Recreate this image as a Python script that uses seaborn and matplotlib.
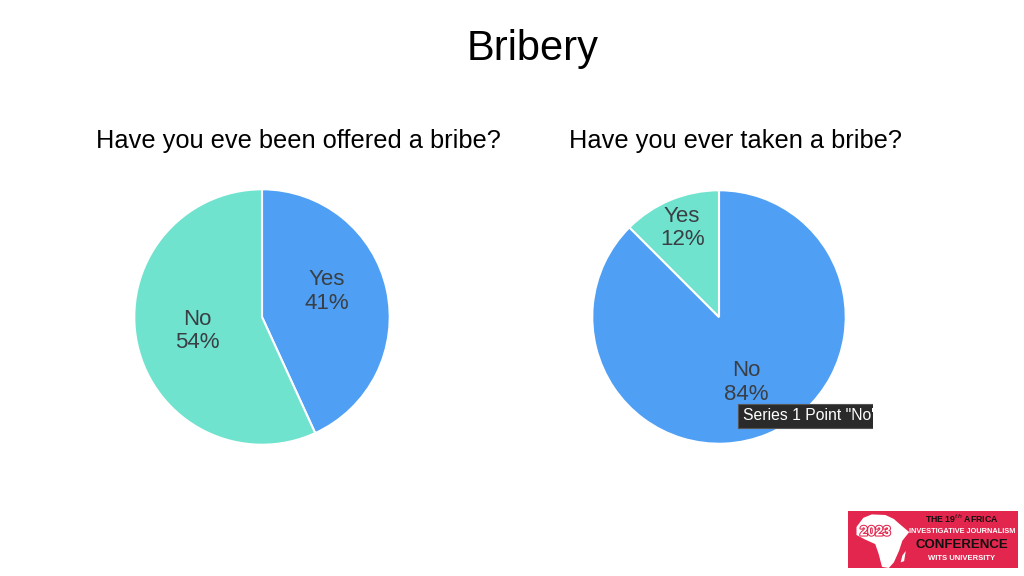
import numpy as np
import matplotlib
matplotlib.use("Agg")
import matplotlib.pyplot as plt
import matplotlib.patheffects as pe
import seaborn as sns
from matplotlib.patches import Polygon

sns.set_theme(style="white")
plt.rcParams['font.family'] = ['Liberation Sans', 'DejaVu Sans']

# data
offered_labels = ["Yes", "No"]
offered_values = [41, 54]
taken_labels = ["No", "Yes"]
taken_values = [84, 12]

blue = "#4f9ff5"
teal = "#70e3cf"
txt_col = "#3a3f44"

fig = plt.figure(figsize=(10.24, 5.76), dpi=100)
W, H = 1024, 576


def px_axes(x0, y0, w, h):
    # pixel box (top-left origin) -> figure axes
    return fig.add_axes([x0 / W, 1 - (y0 + h) / H, w / W, h / H])


fig.text(533 / W, 1 - 49 / H, "Bribery", ha="center", va="center",
         fontsize=30, color="black")
fig.text(96 / W, 1 - 141 / H, "Have you eve been offered a bribe?",
         ha="left", va="center", fontsize=18.3, color="black")
fig.text(569 / W, 1 - 141 / H, "Have you ever taken a bribe?",
         ha="left", va="center", fontsize=18.3, color="black")


def draw_pie(ax, values, labels, colors, dists, shifts):
    wedges, _ = ax.pie(values, colors=colors, startangle=90, counterclock=False,
                       wedgeprops=dict(edgecolor="white", linewidth=1.5))
    for w, lab, v, d, s in zip(wedges, labels, values, dists, shifts):
        ang = np.deg2rad((w.theta1 + w.theta2) / 2)
        ax.text(d * np.cos(ang), d * np.sin(ang) + s, f"{lab}\n{v}%",
                ha="center", va="center", fontsize=16, color=txt_col,
                linespacing=1.15)
    ax.set_xlim(-1.01, 1.01)
    ax.set_ylim(-1.01, 1.01)
    ax.set_aspect("equal")
    ax.axis("off")


ax1 = px_axes(133, 188, 258, 258)
draw_pie(ax1, offered_values, offered_labels, [blue, teal], [0.52, 0.52], [0.09, 0.0])

# screenshot region for second chart (tooltip clipped at its edge)
shot = px_axes(585, 180, 288, 272)
shot.set_xlim(0, 288)
shot.set_ylim(272, 0)
shot.axis("off")
shot.text(743 - 585, 416 - 180, 'Series 1 Point "No"', ha="left", va="center",
          fontsize=11.3, color="white", clip_on=True, zorder=5,
          bbox=dict(boxstyle="square,pad=0.3", fc="#2a2a2a", ec="#555555", lw=0.8))

ax2 = px_axes(591, 189, 256, 256)
draw_pie(ax2, taken_values, taken_labels, [blue, teal], [0.56, 0.76], [0.0, 0.0])
shot.set_zorder(3)

# conference logo
logo_red = "#e2264d"
logo = px_axes(848, 511, 170, 57)
logo.set_facecolor(logo_red)
logo.set_xlim(0, 1)
logo.set_ylim(0, 1)
logo.set_xticks([])
logo.set_yticks([])
for s in logo.spines.values():
    s.set_visible(False)
africa = [(0.05, 0.72), (0.09, 0.88), (0.14, 0.94), (0.22, 0.93), (0.27, 0.86),
          (0.30, 0.78), (0.36, 0.63), (0.32, 0.48), (0.30, 0.30), (0.27, 0.10),
          (0.24, 0.0), (0.20, 0.02), (0.18, 0.25), (0.16, 0.42), (0.10, 0.50),
          (0.05, 0.58)]
logo.add_patch(Polygon(africa, closed=True, fc="white", ec="none"))
logo.add_patch(Polygon([(0.32, 0.22), (0.34, 0.30), (0.33, 0.12), (0.31, 0.10)],
                       closed=True, fc="white", ec="none"))
logo.text(0.16, 0.64, "2023", ha="center", va="center", fontsize=10,
          color="white", fontweight="bold",
          path_effects=[pe.withStroke(linewidth=1.5, foreground=logo_red)])
logo.text(0.67, 0.86, "THE 19$^{th}$ AFRICA", ha="center", va="center",
          fontsize=6.3, color="#111111", fontweight="bold")
logo.text(0.67, 0.64, "INVESTIGATIVE JOURNALISM", ha="center", va="center",
          fontsize=5.3, color="white", fontweight="bold")
logo.text(0.67, 0.40, "CONFERENCE", ha="center", va="center",
          fontsize=9.5, color="#111111", fontweight="bold")
logo.text(0.67, 0.16, "WITS UNIVERSITY", ha="center", va="center",
          fontsize=5.5, color="white", fontweight="bold")

fig.savefig("out.png", dpi=100)
